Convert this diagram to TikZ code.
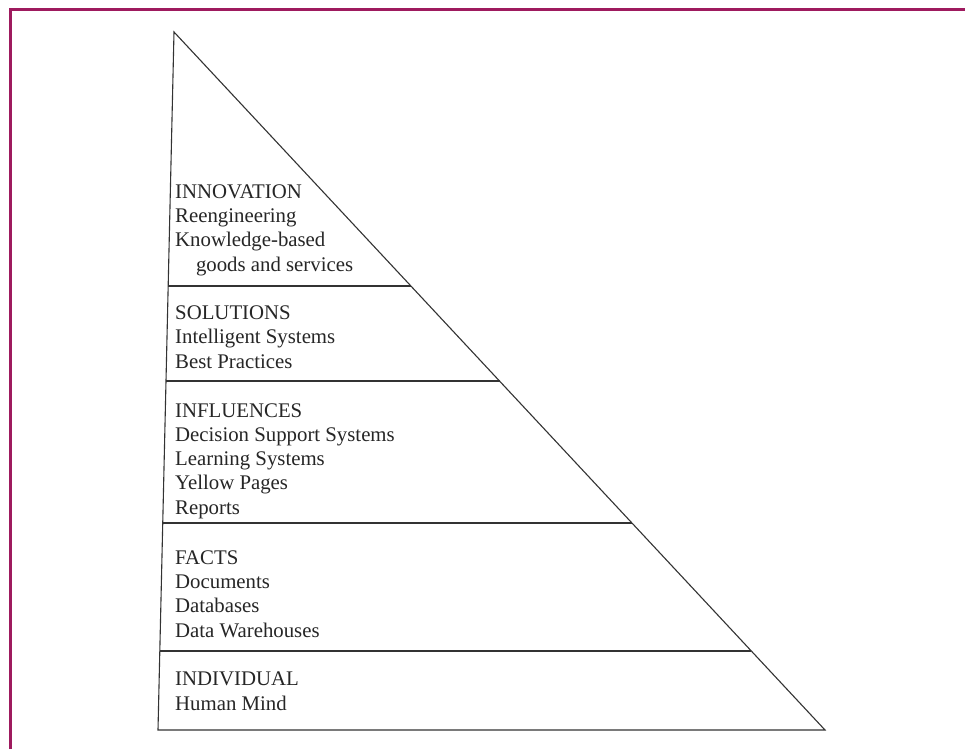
\documentclass[tikz,border=0pt]{standalone}
\usepackage{fontspec}
\setmainfont{Liberation Serif}
\usetikzlibrary{calc}
\definecolor{borderred}{RGB}{158,26,94}

\begin{document}
\begin{tikzpicture}[x=1pt, y=-1pt,
	layer/.style={anchor=base west, inner sep=0pt, align=left, font=\fontsize{20.8}{24.2}\selectfont, text=black!85},
	edge/.style={line width=1.1pt, draw=black!80}]
	\useasboundingbox (0,0) rectangle (965,749);
	\fill[white] (0,0) rectangle (965,749);
	\draw[borderred, line width=3pt] (10.5,749) -- (10.5,9.5) -- (965,9.5);
	
	\coordinate (apex) at (174,32); \coordinate (bl) at (158,730); \coordinate (br) at (825,730);
	\draw[edge] (br) -- (apex) -- (bl) -- cycle;
	\draw[edge] ($(apex)!0.3639!(bl)$) -- ($(apex)!0.3639!(br)$);
	\draw[edge] ($(apex)!0.5!(bl)$) -- ($(apex)!0.5!(br)$);
	\draw[edge] ($(apex)!0.7034!(bl)$) -- ($(apex)!0.7034!(br)$);
	\draw[edge] ($(apex)!0.8868!(bl)$) -- ($(apex)!0.8868!(br)$);
	
	% base anchor sits on the last line
	\node[layer] (innovation) at (175,271) {INNOVATION\\Reengineering\\Knowledge-based\\\hspace*{1em}goods and services};
	\node[layer] (solutions) at (175,368) {SOLUTIONS\\Intelligent Systems\\Best Practices};
	\node[layer] (influences) at (175,514) {INFLUENCES\\Decision Support Systems\\Learning Systems\\Yellow Pages\\Reports};
	\node[layer] (facts) at (175,637) {FACTS\\Documents\\Databases\\Data Warehouses};
	\node[layer] (individual) at (175,710) {INDIVIDUAL\\Human Mind};
\end{tikzpicture}
\end{document}
